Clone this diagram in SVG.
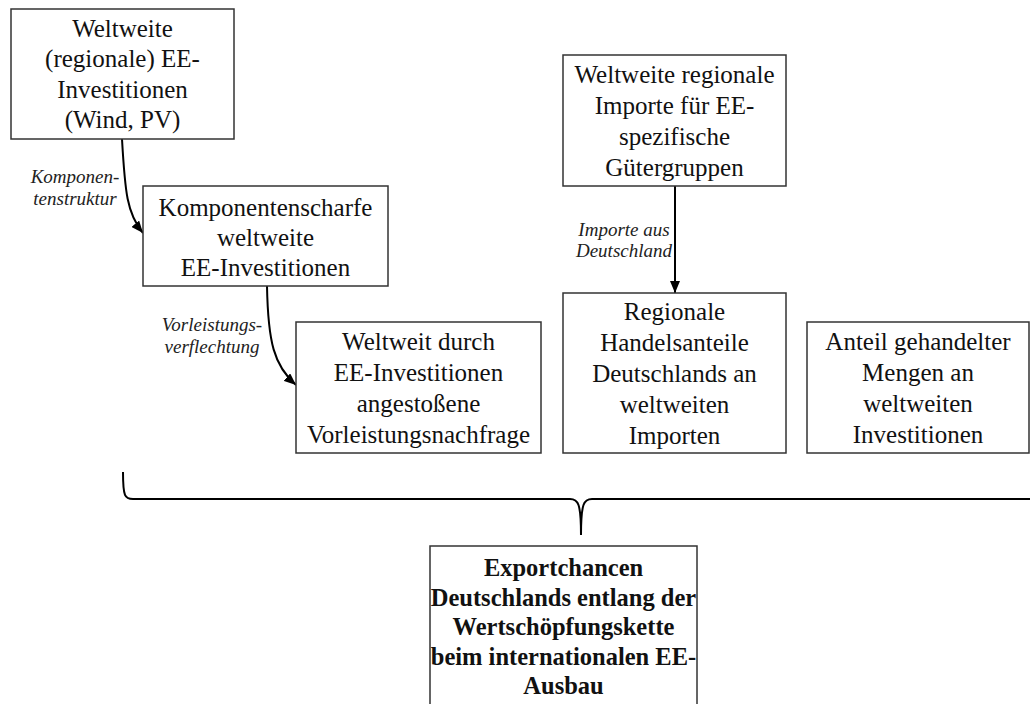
<svg xmlns="http://www.w3.org/2000/svg" width="1030" height="704" viewBox="0 0 1030 704">
<defs>
<marker id="ah" viewBox="0 0 12 10" refX="12" refY="5" markerWidth="12" markerHeight="10" markerUnits="userSpaceOnUse" orient="auto">
<path d="M0,0 L12,5 L0,10 z" fill="#000"/>
</marker>
</defs>
<style>
.box{fill:#fff;stroke:#333;stroke-width:1.5}
.t{font-family:"Liberation Serif","Times New Roman",serif;font-size:25px;fill:#111;text-anchor:middle}
.b{font-weight:bold;font-size:24.5px}
.lbl{font-family:"Liberation Serif","Times New Roman",serif;font-size:19px;font-style:italic;fill:#222;text-anchor:middle}
.con{fill:none;stroke:#000;stroke-width:2}
</style>
<rect x="0" y="0" width="1030" height="704" fill="#fff"/>
<g id="connectors">
<path class="con" d="M122,139 C125,192 127,214 143,233" marker-end="url(#ah)"/>
<path class="con" d="M267,286 C268,342 274,366 296,385" marker-end="url(#ah)"/>
<path class="con" d="M675,186 L675,293" marker-end="url(#ah)"/>
<path class="con" stroke="#222" d="M123,472 C123,497 125,499 133,499 L570,499 C578,499 581,503 581,535 C581,503 584,499 592,499 L1029,499 C1037,499 1039,497 1039,472"/>
<text class="lbl" x="75" y="183">Komponen-</text>
<text class="lbl" x="75" y="205">tenstruktur</text>
<text class="lbl" x="212" y="331">Vorleistungs-</text>
<text class="lbl" x="212" y="353">verflechtung</text>
<text class="lbl" x="624" y="236">Importe aus</text>
<text class="lbl" x="624" y="257">Deutschland</text>
</g>
<g id="n1">
<rect class="box" x="11" y="9" width="223" height="130"/>
<text class="t" x="122.5" y="36.5">Weltweite</text>
<text class="t" x="122.5" y="67">(regionale) EE-</text>
<text class="t" x="122.5" y="97.5">Investitionen</text>
<text class="t" x="122.5" y="128">(Wind, PV)</text>
</g>
<g id="n2">
<rect class="box" x="143" y="186" width="245" height="100"/>
<text class="t" x="265.5" y="215.5">Komponentenscharfe</text>
<text class="t" x="265.5" y="245.5">weltweite</text>
<text class="t" x="265.5" y="275.5">EE-Investitionen</text>
</g>
<g id="n3">
<rect class="box" x="296" y="322" width="245" height="131"/>
<text class="t" x="418.5" y="349.5">Weltweit durch</text>
<text class="t" x="418.5" y="380.5">EE-Investitionen</text>
<text class="t" x="418.5" y="411.5">angestoßene</text>
<text class="t" x="418.5" y="442.5">Vorleistungsnachfrage</text>
</g>
<g id="n4">
<rect class="box" x="563" y="55" width="223" height="131"/>
<text class="t" x="674.5" y="82.5">Weltweite regionale</text>
<text class="t" x="674.5" y="113.5">Importe für EE-</text>
<text class="t" x="674.5" y="144.5">spezifische</text>
<text class="t" x="674.5" y="175.5">Gütergruppen</text>
</g>
<g id="n5">
<rect class="box" x="563" y="293" width="223" height="160"/>
<text class="t" x="674.5" y="319.5">Regionale</text>
<text class="t" x="674.5" y="350.5">Handelsanteile</text>
<text class="t" x="674.5" y="381.5">Deutschlands an</text>
<text class="t" x="674.5" y="412.5">weltweiten</text>
<text class="t" x="674.5" y="443.5">Importen</text>
</g>
<g id="n6">
<rect class="box" x="807" y="322" width="222" height="131"/>
<text class="t" x="918" y="349.5">Anteil gehandelter</text>
<text class="t" x="918" y="380.5">Mengen an</text>
<text class="t" x="918" y="411.5">weltweiten</text>
<text class="t" x="918" y="442.5">Investitionen</text>
</g>
<g id="n7">
<rect class="box" x="430" y="546" width="267" height="180"/>
<text class="t b" x="563.5" y="576">Exportchancen</text>
<text class="t b" x="563.5" y="605.5">Deutschlands entlang der</text>
<text class="t b" x="563.5" y="635">Wertschöpfungskette</text>
<text class="t b" x="563.5" y="664.5">beim internationalen EE-</text>
<text class="t b" x="563.5" y="694">Ausbau</text>
</g>
</svg>
